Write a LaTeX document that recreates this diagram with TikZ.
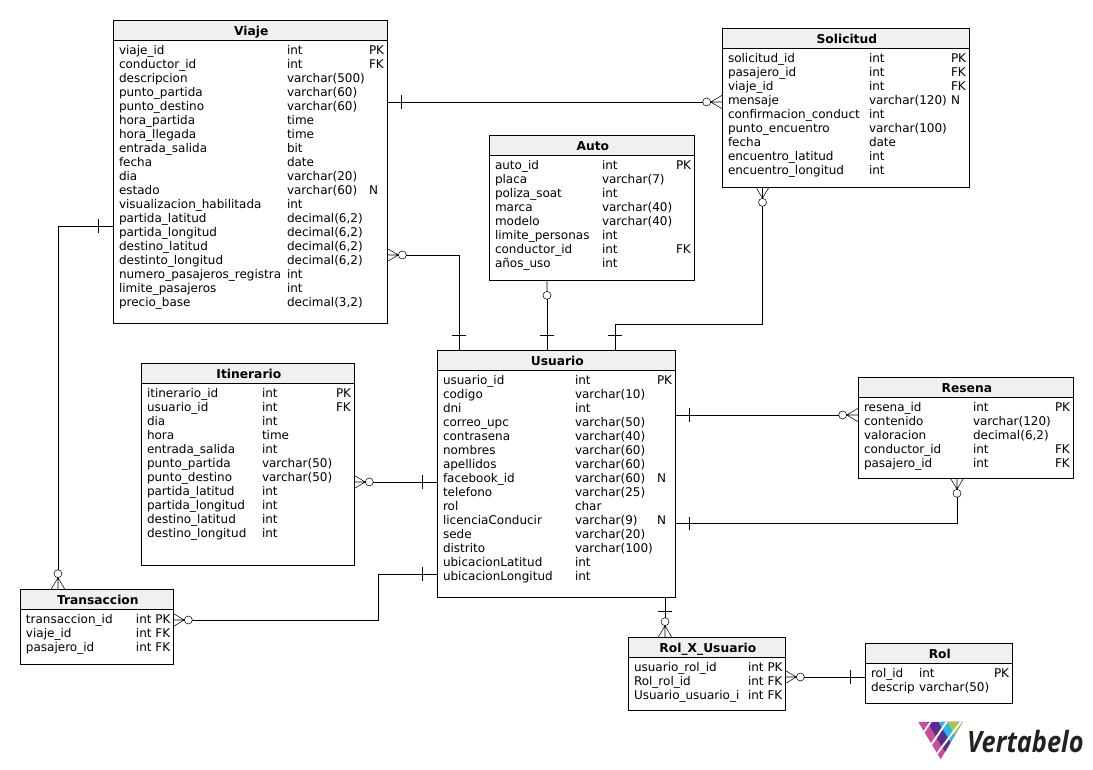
\documentclass[tikz,border=0pt]{standalone}
\usepackage{fontspec}
\usepackage{array}
\setmainfont{DejaVu Sans}
\newfontfamily\logofont{Open Sans}
\usetikzlibrary{positioning}
\definecolor{titlegray}{HTML}{F0F0F0}
\definecolor{logomagenta}{HTML}{C94F9B}
\definecolor{logopurple}{HTML}{5B2D8C}
\definecolor{logocyan}{HTML}{2BB5E8}
\definecolor{logogreen}{HTML}{A0C84A}
\definecolor{logotext}{HTML}{222222}
\tikzset{x=0.75pt, y=-0.75pt, line width=0.8pt, font=\fontsize{9}{10.5}\selectfont}
\tikzstyle{tablebox} = [draw, fill=white, rectangle, anchor=north west, inner sep=0, outer sep=0]
\tikzstyle{tabletitle} = [draw, fill=titlegray, rectangle, anchor=north, inner sep=0, outer sep=0, minimum height=15pt, text height=9pt, text depth=1pt, font=\fontsize{9.2}{10.5}\selectfont\bfseries]
\tikzstyle{tablerows} = [anchor=north west, inner sep=0, outer sep=0]
\tikzstyle{manyone} = [ZeroMany-OneBar]
\tikzstyle{onemany} = [OneBar-ZeroMany]
\tikzstyle{zeroone} = [ZeroOne-OneBar]
% crow's foot ends
\pgfdeclarearrow{
  name=ZeroMany,
  setup code={\pgfarrowssettipend{0pt}\pgfarrowssetbackend{-14.5pt}\pgfarrowssetlineend{-14.5pt}\pgfarrowssetvisualbackend{-14.5pt}},
  drawing code={
    \pgfsetdash{}{0pt}
    \pgfpathmoveto{\pgfqpoint{0pt}{5pt}}
    \pgfpathlineto{\pgfqpoint{-8.5pt}{0pt}}
    \pgfpathlineto{\pgfqpoint{0pt}{-5pt}}
    \pgfpathmoveto{\pgfqpoint{0pt}{0pt}}
    \pgfpathlineto{\pgfqpoint{-8.5pt}{0pt}}
    \pgfpathcircle{\pgfqpoint{-11.5pt}{0pt}}{3pt}
    \pgfusepathqstroke
  }
}
\pgfdeclarearrow{
  name=ZeroOne,
  setup code={\pgfarrowssettipend{0pt}\pgfarrowssetbackend{-14.5pt}\pgfarrowssetlineend{-14.5pt}\pgfarrowssetvisualbackend{-14.5pt}},
  drawing code={
    \pgfsetdash{}{0pt}
    \pgfpathmoveto{\pgfqpoint{0pt}{0pt}}
    \pgfpathlineto{\pgfqpoint{-8.5pt}{0pt}}
    \pgfpathcircle{\pgfqpoint{-11.5pt}{0pt}}{3pt}
    \pgfusepathqstroke
  }
}
\pgfdeclarearrow{
  name=OneBar,
  setup code={\pgfarrowssettipend{0pt}\pgfarrowssetbackend{-11.5pt}\pgfarrowssetlineend{0pt}\pgfarrowssetvisualbackend{-11.5pt}},
  drawing code={
    \pgfsetdash{}{0pt}
    \pgfpathmoveto{\pgfqpoint{-11pt}{5pt}}
    \pgfpathlineto{\pgfqpoint{-11pt}{-5pt}}
    \pgfusepathqstroke
  }
}
% name, x, y, width, height, title, column 1, column 2, rows
\newcommand{\dbtable}[9]{
  \node [tablebox, minimum width=#4*0.75pt, minimum height=#5*0.75pt] (#1) at (#2,#3) {};
  \node [tabletitle, minimum width=#4*0.75pt] (#1_title) at (#1.north) {\hspace*{2pt}#6};
  \node [tablerows] (#1_rows) at ([shift={(6,24.8)}]#1.north west) {\setlength{\tabcolsep}{0pt}%
    \begin{tabular}{w{l}{\dimexpr#7pt*3/4\relax}w{l}{\dimexpr#8pt*3/4\relax}l}#9\end{tabular}};
}

\begin{document}
\begin{tikzpicture}
	\useasboundingbox (0,0) rectangle (1093,770);

	\dbtable{viaje}{113}{20}{274}{303}{Viaje}{168}{82}{
		viaje\_id & int & PK\\
		conductor\_id & int & FK\\
		descripcion & varchar(500) &\\
		punto\_partida & varchar(60) &\\
		punto\_destino & varchar(60) &\\
		hora\_partida & time &\\
		hora\_llegada & time &\\
		entrada\_salida & bit &\\
		fecha & date &\\
		dia & varchar(20) &\\
		estado & varchar(60) & N\\
		visualizacion\_habilitada & int &\\
		partida\_latitud & decimal(6,2) &\\
		partida\_longitud & decimal(6,2) &\\
		destino\_latitud & decimal(6,2) &\\
		destinto\_longitud & decimal(6,2) &\\
		numero\_pasajeros\_registra & int &\\
		limite\_pasajeros & int &\\
		precio\_base & decimal(3,2) &}

	\dbtable{solicitud}{722}{28}{247}{159}{Solicitud}{141}{82}{
		solicitud\_id & int & PK\\
		pasajero\_id & int & FK\\
		viaje\_id & int & FK\\
		mensaje & varchar(120) & N\\
		confirmacion\_conduct & int &\\
		punto\_encuentro & varchar(100) &\\
		fecha & date &\\
		encuentro\_latitud & int &\\
		encuentro\_longitud & int &}

	\dbtable{auto}{489}{135}{205}{145}{Auto}{107}{74}{
		auto\_id & int & PK\\
		placa & varchar(7) &\\
		poliza\_soat & int &\\
		marca & varchar(40) &\\
		modelo & varchar(40) &\\
		limite\_personas & int &\\
		conductor\_id & int & FK\\
		años\_uso & int &}

	\dbtable{usuario}{437}{350}{238}{247}{Usuario}{132}{82}{
		usuario\_id & int & PK\\
		codigo & varchar(10) &\\
		dni & int &\\
		correo\_upc & varchar(50) &\\
		contrasena & varchar(40) &\\
		nombres & varchar(60) &\\
		apellidos & varchar(60) &\\
		facebook\_id & varchar(60) & N\\
		telefono & varchar(25) &\\
		rol & char &\\
		licenciaConducir & varchar(9) & N\\
		sede & varchar(20) &\\
		distrito & varchar(100) &\\
		ubicacionLatitud & int &\\
		ubicacionLongitud & int &}

	\dbtable{itinerario}{141}{363}{213}{202}{Itinerario}{115}{74}{
		itinerario\_id & int & PK\\
		usuario\_id & int & FK\\
		dia & int &\\
		hora & time &\\
		entrada\_salida & int &\\
		punto\_partida & varchar(50) &\\
		punto\_destino & varchar(50) &\\
		partida\_latitud & int &\\
		partida\_longitud & int &\\
		destino\_latitud & int &\\
		destino\_longitud & int &}

	\dbtable{resena}{858}{377}{215}{101}{Resena}{109}{82}{
		resena\_id & int & PK\\
		contenido & varchar(120) &\\
		valoracion & decimal(6,2) &\\
		conductor\_id & int & FK\\
		pasajero\_id & int & FK}

	\dbtable{transaccion}{20}{589}{153}{75}{Transaccion}{110}{19.5}{
		transaccion\_id & int & PK\\
		viaje\_id & int & FK\\
		pasajero\_id & int & FK}

	\dbtable{rol_x_usuario}{628}{637}{157}{73}{Rol\_X\_Usuario}{114}{19.5}{
		usuario\_rol\_id & int & PK\\
		Rol\_rol\_id & int & FK\\
		Usuario\_usuario\_i & int & FK}

	\dbtable{rol}{865}{643}{147}{60}{Rol}{48}{75}{
		rol\_id & int & PK\\
		descrip & varchar(50) &}

	\draw [onemany] ([shift={(0,82)}]viaje.north east) -- ([shift={(0,74)}]solicitud.north west);
	\draw [manyone] ([shift={(0,235)}]viaje.north east) -| ([shift={(22,0)}]usuario.north west);
	\draw [zeroone] (auto.south west -| 547,0) -- (usuario.north west -| 547,0);
	\draw [manyone] ([shift={(-83,0)}]solicitud.south) -- ++(0,137) -| ([shift={(178,0)}]usuario.north west);
	\draw [onemany] ([shift={(0,65)}]usuario.north east) -- ([shift={(0,38)}]resena.north west);
	\draw [onemany] ([shift={(0,173.5)}]usuario.north east) -| ([shift={(99,0)}]resena.south west);
	\draw [manyone] ([shift={(0,119)}]itinerario.north east) -- ([shift={(0,132)}]usuario.north west);
	\draw [manyone] ([shift={(0,31)}]transaccion.north east) -- ++(205,0) |- ([shift={(0,224)}]usuario.north west);
	\draw [onemany] ([shift={(0,206)}]viaje.north west) -| ([shift={(38,0)}]transaccion.north west);
	\draw [onemany] ([shift={(228,0)}]usuario.south west) -- ([shift={(37,0)}]rol_x_usuario.north west);
	\draw [manyone] ([shift={(0,40)}]rol_x_usuario.north east) -- ([shift={(0,34)}]rol.north west);

	% logo
	\begin{scope}
		\clip (918.3,722) -- (963,721.5) -- (940.7,759.3) -- cycle;
		\fill [logomagenta] (900,715) rectangle (980,765);
		\fill [logopurple] (927.2,722) -- (949.6,759.3) -- (960.8,759.3) -- (938.4,722) -- cycle;
		\fill [logocyan] (938.4,722) -- (960.8,759.3) -- (969.7,759.3) -- (947.3,722) -- cycle;
		\fill [logogreen] (947.3,722) -- (969.7,759.3) -- (990,759.3) -- (970,722) -- cycle;
		\draw [white, line width=1.4pt] (917.7,741.3) -- (935.7,714.3);
		\draw [white, line width=1.4pt] (926.7,751.3) -- (950.7,716);
		\draw [white, line width=1.4pt] (933.7,758) -- (964,717.7);
	\end{scope}
	\node [anchor=base west, inner sep=0, text=logotext, font=\fontsize{22}{22}\logofont\bfseries\itshape, transform shape, xscale=0.865] (logo) at (967,752) {Vertabelo};
\end{tikzpicture}
\end{document}
